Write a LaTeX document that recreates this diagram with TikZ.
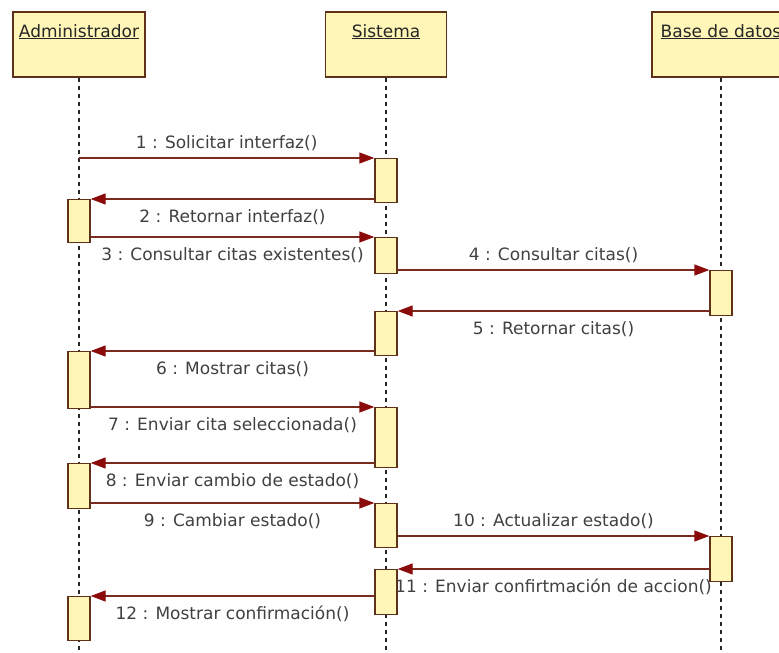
\documentclass[tikz,border=0pt]{standalone}
\usepackage{fontspec}
\setmainfont{DejaVu Sans}
\usepackage{tikz}
\usetikzlibrary{arrows.meta,positioning}
\definecolor{boxfill}{HTML}{FFF6B8}
\definecolor{boxline}{HTML}{5E3218}
\definecolor{msgline}{HTML}{7A2A1E}
\definecolor{msghead}{HTML}{8B0A0A}
\begin{document}
\begin{tikzpicture}[x=1pt,y=-1pt,line join=miter,
  actor/.style={draw=boxline,fill=boxfill,line width=1.4pt,minimum height=65pt,inner sep=0pt},
  actorname/.style={font=\fontsize{17}{20}\selectfont,anchor=base,text=black!85},
  lifeline/.style={draw=black!85,line width=1.5pt,dash pattern=on 4pt off 4pt},
  act/.style={draw=boxline,fill=boxfill,line width=1.4pt,minimum width=22pt,anchor=north,inner sep=0pt},
  msg/.style={draw=msgline,line width=1.4pt,-{Triangle[length=15pt,width=11pt,color=msghead]}},
  msgtext/.style={font=\fontsize{17}{20}\selectfont,text=black!75,anchor=base,midway},
  msgup/.style={msgtext,yshift=10pt},
  msgdown/.style={msgtext,yshift=-23pt}]
\path[use as bounding box] (0,0) rectangle (779,653);
% participants
\node[actor,minimum width=132pt] (adm) at (79,44.5) {};
\node[actor,minimum width=121pt] (sis) at (386,44.5) {};
\node[actor,minimum width=138pt] (bd) at (721,44.5) {};
\node[actorname] (admName) at (79,37) {\underline{Administrador}};
\node[actorname] (sisName) at (386,37) {\underline{Sistema}};
\node[actorname] (bdName) at (721,37) {\underline{Base de datos}};
% lifelines
\coordinate (admEnd) at (79,660);
\coordinate (sisEnd) at (386,660);
\coordinate (bdEnd) at (721,660);
\draw[lifeline] (adm.south) -- (admEnd);
\draw[lifeline] (sis.south) -- (sisEnd);
\draw[lifeline] (bd.south) -- (bdEnd);
% activations
\node[act,minimum height=44pt] (s1) at (386,158) {};
\node[act,minimum height=43pt] (a1) at (79,199) {};
\node[act,minimum height=36pt] (s2) at (386,237) {};
\node[act,minimum height=45pt] (b1) at (721,270) {};
\node[act,minimum height=44pt] (s3) at (386,311) {};
\node[act,minimum height=57pt] (a2) at (79,351) {};
\node[act,minimum height=60pt] (s4) at (386,407) {};
\node[act,minimum height=45pt] (a3) at (79,463) {};
\node[act,minimum height=44pt] (s5) at (386,503) {};
\node[act,minimum height=45pt] (b2) at (721,536) {};
\node[act,minimum height=45pt] (s6) at (386,569) {};
\node[act,minimum height=44pt] (a4) at (79,596) {};
% messages
\draw[msg] (adm.south |- s1.north) -- node[msgup] (m1) {1 : Solicitar interfaz()} (s1.north west);
\draw[msg] (s1.west |- a1.north) -- node[msgdown] (m2) {2 : Retornar interfaz()} (a1.north east);
\draw[msg] (a1.east |- s2.north) -- node[msgdown] (m3) {3 : Consultar citas existentes()} (s2.north west);
\draw[msg] (s2.east |- b1.north) -- node[msgup] (m4) {4 : Consultar citas()} (b1.north west);
\draw[msg] (b1.west |- s3.north) -- node[msgdown] (m5) {5 : Retornar citas()} (s3.north east);
\draw[msg] (s3.west |- a2.north) -- node[msgdown] (m6) {6 : Mostrar citas()} (a2.north east);
\draw[msg] (a2.east |- s4.north) -- node[msgdown] (m7) {7 : Enviar cita seleccionada()} (s4.north west);
\draw[msg] (s4.west |- a3.north) -- node[msgdown] (m8) {8 : Enviar cambio de estado()} (a3.north east);
\draw[msg] (a3.east |- s5.north) -- node[msgdown] (m9) {9 : Cambiar estado()} (s5.north west);
\draw[msg] (s5.east |- b2.north) -- node[msgup] (m10) {10 : Actualizar estado()} (b2.north west);
\draw[msg] (b2.west |- s6.north) -- node[msgdown] (m11) {11 : Enviar confirtmación de accion()} (s6.north east);
\draw[msg] (s6.west |- a4.north) -- node[msgdown] (m12) {12 : Mostrar confirmación()} (a4.north east);
\end{tikzpicture}
\end{document}
